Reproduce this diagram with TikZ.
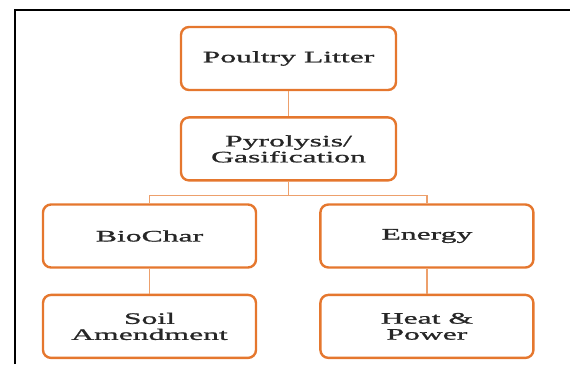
\documentclass[tikz,border=0pt]{standalone}
\usepackage{fontspec}
\setmainfont{Liberation Serif}[FakeStretch=1.98, FakeBold=1.2]
\usepackage{tikz}
\usetikzlibrary{positioning,calc}
\usepackage{xcolor}
\definecolor{boxorange}{HTML}{E5772E}
\definecolor{lineorange}{HTML}{EDA06C}

\begin{document}
\begin{tikzpicture}[x=1pt, y=-1pt, node distance=25pt and 62pt]
    \tikzset{block/.style={rectangle, draw=boxorange, line width=2.4pt, fill=white, minimum width=213pt, minimum height=63pt, align=center, rounded corners=8pt, inner sep=0pt, font=\fontsize{16}{16}\selectfont, text=black!85}}
    \tikzset{link/.style={draw=lineorange, line width=1.4pt}}

    \useasboundingbox (0,0) rectangle (570,364);
    % Frame
    \draw[line width=2pt] (15,364) -- (15,9.5) -- (570,9.5);

    % Top
    \node[block, minimum width=215pt] (litter) at (288.5,58.5) {Poultry Litter};
    \node[block, minimum width=215pt, below=of litter] (pyro) {Pyrolysis/\\Gasification};

    % Products
    \node[block] (biochar) at (149.5,236) {BioChar};
    \node[block, right=of biochar] (energy) {Energy};
    \node[block, below=of biochar] (soil) {Soil\\Amendment};
    \node[block, below=of energy] (heat) {Heat \&\\Power};

    % Links
    \draw[link] (litter) -- (pyro);
    \coordinate (bus) at ($(pyro.south)+(0,14)$);
    \draw[link] (pyro.south) -- (bus);
    \draw[link] (biochar.north) |- (bus) -| (energy.north);
    \draw[link] (biochar) -- (soil);
    \draw[link] (energy) -- (heat);
\end{tikzpicture}
\end{document}
